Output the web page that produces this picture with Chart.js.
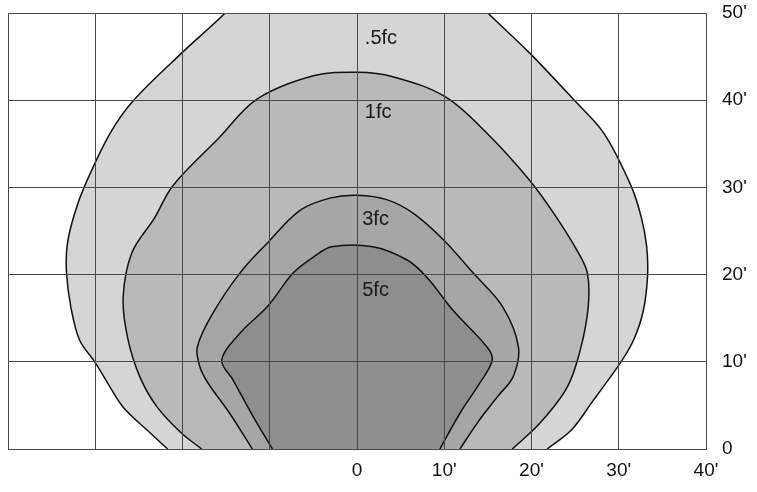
<!DOCTYPE html>
<html>
<head>
<meta charset="utf-8">
<script src="https://cdn.jsdelivr.net/npm/chart.js@4/dist/chart.umd.min.js"></script>
<style>
  html, body { margin: 0; padding: 0; background: #fff; }
  canvas { display: block; }
</style>
</head>
<body>
<canvas id="iso_chart" width="757" height="492"></canvas>
<script>
// isofootcandle contours, feet (x = lateral, y = forward)
// .5fc runs off the top of the grid, so it continues a little above 50'
const halfFcX = [-21.7, -24.1, -26.8, -28.3, -30.0, -31.8, -32.8, -33.3, -33.2, -32.4, -31.2, -28.3, -25.5, -20.1, -15.1, -10.8,
                 10.6, 15.0, 19.8, 24.8, 28.3, 31.4, 32.6, 33.2, 33.3, 32.8, 31.7, 30.2, 28.2, 27.1, 24.6, 21.8];
const halfFcY = [0, 2.2, 4.8, 7.1, 9.9, 12.5, 16.3, 20.3, 23.5, 26.9, 30.2, 36.2, 40.1, 45.4, 50, 54.5,
                 54.5, 50, 45.4, 40.1, 36.2, 30.2, 26.5, 23.2, 19.8, 15.8, 12.5, 9.9, 7.1, 5.6, 2.2, 0];

const oneFcX = [-17.8, -20.1, -22.9, -24.9, -26.3, -26.8, -25.8, -23.2, -21.1, -15.8, -11.5, -5.0, 0,
                4.1, 10.1, 14.9, 19.8, 22.5, 25.2, 26.4, 26.5, 25.6, 24.1, 21.0, 17.8];
const oneFcY = [0, 1.8, 4.8, 8.3, 12.8, 17.4, 22.5, 26.5, 30.2, 35.7, 40.1, 42.8, 43.2,
                42.7, 40.4, 36.2, 30.8, 27.1, 22.8, 20.2, 16.3, 11.4, 7.1, 3.0, 0];

const threeFcX = [-12.0, -14.6, -17.1, -18.0, -18.3, -16.5, -13.4, -10.3, -6.5, -3.0, 0,
                  3.4, 6.5, 9.9, 13.3, 16.7, 18.5, 17.9, 16.1, 13.8, 11.8];
const threeFcY = [0, 4.1, 7.6, 9.4, 11.7, 15.6, 20.2, 23.6, 27.4, 28.8, 29.1,
                  28.6, 27.0, 24.0, 20.2, 16.3, 11.7, 8.3, 6.0, 3.0, 0];

const fiveFcX = [-9.7, -11.9, -14.2, -15.5, -13.4, -10.3, -7.3, -5.0, -2.9,
                 1.8, 5.7, 8.0, 11.0, 14.9, 15.5, 14.1, 11.8, 9.5];
const fiveFcY = [0, 3.7, 7.9, 10.2, 13.3, 16.3, 20.2, 22.0, 23.2,
                 23.2, 21.7, 19.7, 15.9, 11.7, 10.2, 7.6, 4.1, 0];

const contourNames = ['5fc', '3fc', '1fc', '.5fc'];
const labelNames = ['.5fc', '1fc', '3fc', '5fc'];
const labelX = [0.9, 0.9, 0.6, 0.6];
const labelY = [47.1, 38.6, 26.3, 18.2];

const xTicks = [-40, -30, -20, -10, 0, 10, 20, 30, 40];
const yTicks = [0, 10, 20, 30, 40, 50];

function pts(xs, ys) {
    return xs.map((x, i) => ({x: x, y: ys[i]}));
}

const fills = ['#8e8e8e', '#a6a6a6', '#b9b9b9', '#d5d5d5'];
const shapes = [pts(fiveFcX, fiveFcY), pts(threeFcX, threeFcY), pts(oneFcX, oneFcY), pts(halfFcX, halfFcY)];

const data = {
    datasets: shapes.map((s, i) => ({
        label: contourNames[i],
        data: s,
        showLine: true,
        fill: 'shape',
        backgroundColor: fills[i],
        borderColor: '#111',
        borderWidth: 1.5,
        pointRadius: 0,
        tension: 0.35
    }))
};

const tickFont = {family: 'Liberation Sans, Arial, sans-serif', size: 19};

const fcLabels = {
    id: 'fcLabels',
    afterDatasetsDraw(chart) {
        const c = chart.ctx;
        c.save();
        c.font = '20px Liberation Sans, Arial, sans-serif';
        c.fillStyle = '#1a1a1a';
        c.textBaseline = 'middle';
        c.textAlign = 'left';
        labelNames.forEach((t, i) => {
            c.fillText(t, chart.scales.x.getPixelForValue(labelX[i]), chart.scales.y.getPixelForValue(labelY[i]));
        });
        c.restore();
    }
};

const config = {
    type: 'scatter',
    data: data,
    options: {
        responsive: false,
        animation: false,
        devicePixelRatio: 1,
        layout: {padding: {left: 8, top: 13, right: 0, bottom: 0}},
        plugins: {legend: {display: false}, tooltip: {enabled: false}},
        scales: {
            x: {
                type: 'linear',
                min: -40, max: 40,
                afterBuildTicks: (ax) => { ax.ticks = xTicks.map(v => ({value: v})); },
                afterFit: (ax) => { ax.height = 43; ax.paddingLeft = 0; ax.paddingRight = 0; },
                ticks: {
                    font: tickFont, color: '#111', padding: 10, maxRotation: 0,
                    callback: (v) => v < 0 ? '' : (v === 0 ? '0' : v + "'")
                },
                grid: {color: '#4a4a4a', lineWidth: 1, drawTicks: false, z: 1},
                border: {color: '#4a4a4a', width: 1, z: 1}
            },
            y: {
                type: 'linear',
                position: 'right',
                min: 0, max: 50,
                afterBuildTicks: (ax) => { ax.ticks = yTicks.map(v => ({value: v})); },
                afterFit: (ax) => { ax.width = 51; ax.paddingTop = 0; ax.paddingBottom = 0; },
                ticks: {
                    font: tickFont, color: '#111', padding: 16,
                    callback: (v) => v === 0 ? '0' : v + "'"
                },
                grid: {color: '#4a4a4a', lineWidth: 1, drawTicks: false, z: 1},
                border: {color: '#4a4a4a', width: 1, z: 1}
            }
        }
    },
    plugins: [fcLabels]
};

new Chart(document.getElementById('iso_chart'), config);
</script>
</body>
</html>
